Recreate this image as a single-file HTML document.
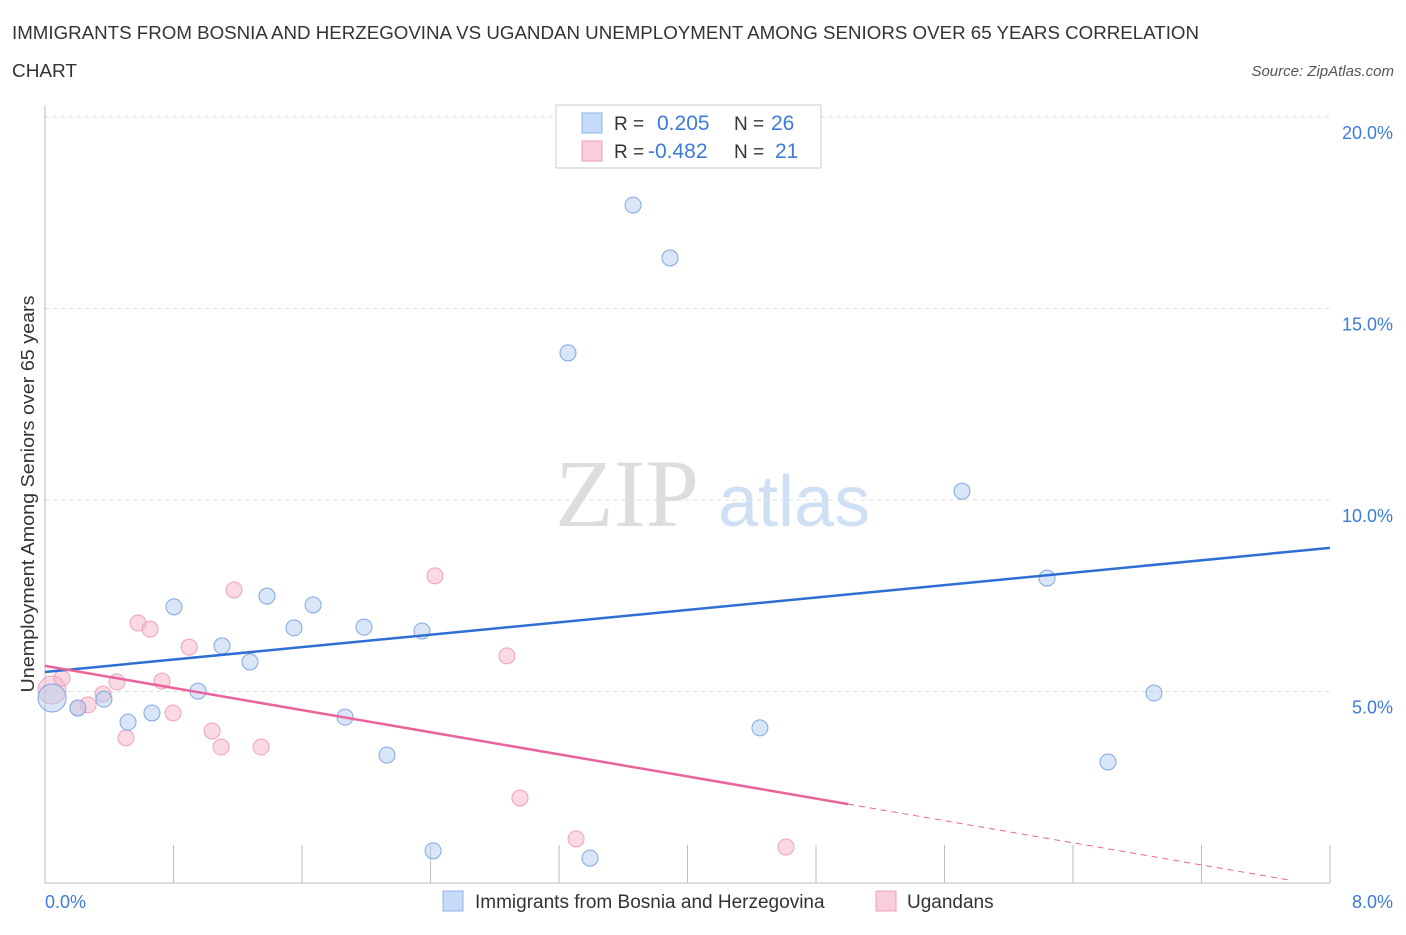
<!DOCTYPE html>
<html><head><meta charset="utf-8"><style>
body{margin:0;background:#fff;font-family:"Liberation Sans",sans-serif;}
</style></head><body>
<svg id="chart" width="1406" height="930" xmlns="http://www.w3.org/2000/svg" font-family="Liberation Sans, sans-serif">
<text x="12" y="39" font-size="18" fill="#333" textLength="1187" lengthAdjust="spacingAndGlyphs">IMMIGRANTS FROM BOSNIA AND HERZEGOVINA VS UGANDAN UNEMPLOYMENT AMONG SENIORS OVER 65 YEARS CORRELATION</text>
<text x="12" y="77" font-size="18" fill="#333" textLength="65" lengthAdjust="spacingAndGlyphs">CHART</text>
<text x="1394" y="76" font-size="15" fill="#555" font-style="italic" text-anchor="end">Source: ZipAtlas.com</text>
<text x="555" y="526" font-size="96" fill="#ddd" font-family="Liberation Serif, serif">ZIP</text>
<text x="718" y="526" font-size="72" fill="#cfe0f5">atlas</text>
<text transform="translate(34,494) rotate(-90)" font-size="18.5" fill="#333" text-anchor="middle" textLength="397" lengthAdjust="spacingAndGlyphs">Unemployment Among Seniors over 65 years</text>
<g id="axes"></g>
<g id="marks"></g>
<g>
<rect x="556" y="105" width="265" height="63" fill="#fff" stroke="#ccc"/>
<rect x="582" y="113" width="20" height="20" fill="#c5dbf7" stroke="#8fb4e8"/>
<text x="614" y="130" font-size="19" fill="#333">R =</text><text x="657" y="130" font-size="21" fill="#3d7bd8">0.205</text>
<text x="734" y="130" font-size="19" fill="#333">N =</text><text x="771" y="130" font-size="21" fill="#3d7bd8">26</text>
<rect x="582" y="141" width="20" height="20" fill="#f9cdd9" stroke="#eda3b8"/>
<text x="614" y="158" font-size="19" fill="#333">R =</text><text x="648" y="158" font-size="21" fill="#3d7bd8">-0.482</text>
<text x="734" y="158" font-size="19" fill="#333">N =</text><text x="775" y="158" font-size="21" fill="#3d7bd8">21</text>
</g>
<g>
<rect x="443" y="891" width="20" height="20" fill="#c5dbf7" stroke="#8fb4e8"/>
<text x="475" y="908" font-size="19" fill="#333">Immigrants from Bosnia and Herzegovina</text>
<rect x="876" y="891" width="20" height="20" fill="#f9cdd9" stroke="#eda3b8"/>
<text x="907" y="908" font-size="19" fill="#333">Ugandans</text>
</g>
</svg>
<script>
const yTicks=[5,10,15,20];
const yTickLabels=["5.0%","10.0%","15.0%","20.0%"];
const xTickLabels=["0.0%","8.0%"];
const blueX=[0.044,0.205,0.367,0.517,0.666,0.803,0.953,1.102,1.276,1.382,1.550,1.669,1.868,1.986,2.129,2.347,2.416,3.256,3.393,3.661,3.891,4.451,5.709,6.238,6.618,6.904];
const blueY=[4.83,4.57,4.80,4.20,4.44,7.21,5.01,6.19,5.77,7.49,6.66,7.26,4.33,6.68,3.34,6.58,0.84,13.84,0.65,17.70,16.32,4.05,10.23,7.96,3.16,4.96];
const pinkX=[0.044,0.106,0.205,0.268,0.361,0.448,0.504,0.579,0.654,0.728,0.797,0.897,1.040,1.096,1.177,1.345,2.428,2.876,2.957,3.306,4.613];
const pinkY=[5.04,5.35,4.57,4.65,4.93,5.25,3.79,6.79,6.63,5.27,4.44,6.16,3.97,3.55,7.65,3.55,8.02,5.93,2.22,1.15,0.94];
const blueLine=[5.51,8.75];
const pinkLine=[5.67,-0.722];
const NS="http://www.w3.org/2000/svg";
const X=v=>45+v*1285/8, Y=v=>883-v*191.5/5;
function mk(p,t,a){const e=document.createElementNS(NS,t);for(const k in a)e.setAttribute(k,a[k]);p.appendChild(e);return e;}
const ax=document.getElementById('axes'), mg=document.getElementById('marks');
yTicks.forEach((t,i)=>{
 const g=mk(ax,'line',{x1:45,x2:1330,y1:Y(t),y2:Y(t),stroke:'#ddd','stroke-dasharray':'4,4'});
 
 
 const l=mk(ax,'text',{x:1393,y:Y(t)+22,'font-size':18,fill:'#3d7bd8','text-anchor':'end'});l.textContent=yTickLabels[i];
 
 
});
let a=mk(ax,'line',{x1:45,x2:45,y1:105,y2:883,stroke:'#bbb'});


a=mk(ax,'line',{x1:45,x2:1330,y1:883,y2:883,stroke:'#bbb'});


for(let i=0;i<=10;i++){const t=mk(ax,'line',{x1:X(i*0.8),x2:X(i*0.8),y1:845,y2:883,stroke:'#bbb'});
 
 }
let xl=mk(ax,'text',{x:45,y:908,'font-size':18,fill:'#3d7bd8'});xl.textContent=xTickLabels[0];


xl=mk(ax,'text',{x:1393,y:908,'font-size':18,fill:'#3d7bd8','text-anchor':'end'});xl.textContent=xTickLabels[1];


pinkX.forEach((x,i)=>{const c=mk(mg,'circle',{cx:X(x),cy:Y(pinkY[i]),r:i==0?14:8,fill:'rgba(246,180,200,0.5)',stroke:'#eda3b8'});
 
 });
blueX.forEach((x,i)=>{const c=mk(mg,'circle',{cx:X(x),cy:Y(blueY[i]),r:i==0?14:8,fill:'rgba(180,205,240,0.5)',stroke:'#7fa8e0'});
 
 });
let ln=mk(mg,'line',{x1:X(0),y1:Y(blueLine[0]),x2:X(8),y2:Y(blueLine[1]),stroke:'#2f6fd3','stroke-width':2.5});


ln=mk(mg,'line',{x1:X(0),y1:Y(pinkLine[0]),x2:X(5),y2:Y(pinkLine[0]+pinkLine[1]*5),stroke:'#e8649a','stroke-width':2.5});


ln=mk(mg,'line',{x1:X(5),y1:Y(pinkLine[0]+pinkLine[1]*5),x2:X(7.75),y2:Y(pinkLine[0]+pinkLine[1]*7.75),stroke:'#e8649a','stroke-width':1,'stroke-dasharray':'6,5'});


</script>
</body></html>
